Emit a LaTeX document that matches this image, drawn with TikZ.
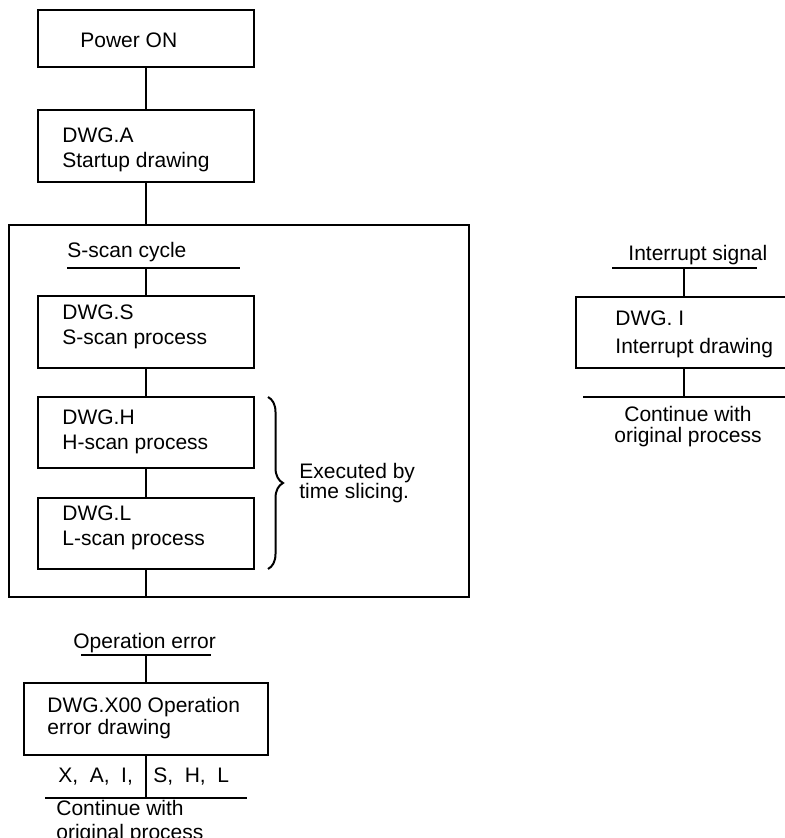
\documentclass[tikz,border=0pt]{standalone}
\usepackage{fontspec}
\setmainfont{Liberation Sans}
\usetikzlibrary{decorations.pathreplacing}
\begin{document}
\begin{tikzpicture}[x=0.5pt,y=-0.5pt,
  box/.style={draw, line width=1pt, minimum width=108pt, inner sep=0pt},
  txt/.style={anchor=west, align=left, inner sep=0pt, font=\fontsize{10.5pt}{12.5pt}\selectfont},
  wire/.style={line width=1pt}]
\useasboundingbox (0,0) rectangle (784,838);
% main column boxes
\node[box, minimum height=28.5pt] (pw) at (146,38.5) {};
\node[txt] (pwt) at (80,40) {Power ON};
\node[box, minimum height=36pt] (A) at (146,146) {};
\node[txt] (At) at (62,149.5) {DWG.A\\Startup drawing};
\node[draw, line width=1pt, inner sep=0pt, minimum width=230pt, minimum height=186pt] (cyc) at (239,411) {};
\node[txt] (cyct) at (67,252) {S-scan cycle};
\coordinate (cu1) at (67,268);
\coordinate (cu2) at (240,268);
\node[box, minimum height=36pt] (S) at (146,332) {};
\node[txt] (St) at (62,327) {DWG.S\\S-scan process};
\node[box, minimum height=35.5pt] (H) at (146,432.5) {};
\node[txt] (Ht) at (62,431.5) {DWG.H\\H-scan process};
\node[box, minimum height=35.5pt] (L) at (146,533.5) {};
\node[txt] (Lt) at (62,527.5) {DWG.L\\L-scan process};
\coordinate (br1) at (268,397);
\coordinate (br2) at (268,569);
\node[txt, font=\fontsize{10.5pt}{10pt}\selectfont] (ex) at (299,483) {Executed by\\time slicing.};
% connectors main column
\draw[wire] (pw.south) -- (A.north);
\draw[wire] (A.south) -- (A.south |- cyc.north);
\draw[wire] (cu1) -- (cu2);
\draw[wire] (S.north |- cu1) -- (S.north);
\draw[wire] (S.south) -- (H.north);
\draw[wire] (H.south) -- (L.north);
\draw[wire] (L.south) -- (L.south |- cyc.south);
\draw[wire, decorate, decoration={brace, amplitude=7.5pt}] (br1) -- (br2);
% operation error
\node[txt] (oet) at (73,643) {Operation error};
\coordinate (ou1) at (81,655);
\coordinate (ou2) at (211,655);
\node[box, minimum width=122pt, minimum height=36pt] (X) at (146,719) {};
\node[txt, font=\fontsize{10.5pt}{11pt}\selectfont] (Xt) at (47,718) {DWG.X00 Operation\\error drawing};
\node[txt] (xai) at (58,777) {X,\hspace{0.55em}A,\hspace{0.55em}I,};
\node[txt] (shl) at (153,777) {S,\hspace{0.55em}H,\hspace{0.55em}L};
\coordinate (ob1) at (45,798);
\coordinate (ob2) at (247,798);
\node[txt, anchor=north west, font=\fontsize{10.5pt}{12pt}\selectfont] (oct) at (56,799.5) {Continue with\\original process};
\draw[wire] (ou1) -- (ou2);
\draw[wire] (X.north |- ou1) -- (X.north);
\draw[wire] (X.south) -- (X.south |- ob1);
\draw[wire] (ob1) -- (ob2);
% interrupt
\node[txt] (ist) at (628,255) {Interrupt signal};
\coordinate (iu1) at (612,268);
\coordinate (iu2) at (757,268);
\node[box, minimum height=35.5pt] (I) at (684,332.5) {};
\node[txt, font=\fontsize{10.5pt}{14pt}\selectfont] (It) at (615,334) {DWG. I\\Interrupt drawing};
\coordinate (ib1) at (583,397);
\coordinate (ib2) at (786,397);
\node[align=center, inner sep=0pt, anchor=north, font=\fontsize{10.5pt}{10.5pt}\selectfont] (ict) at (688,405.5) {Continue with\\original process};
\draw[wire] (iu1) -- (iu2);
\draw[wire] (I.north |- iu1) -- (I.north);
\draw[wire] (I.south) -- (I.south |- ib1);
\draw[wire] (ib1) -- (ib2);
\end{tikzpicture}
\end{document}
